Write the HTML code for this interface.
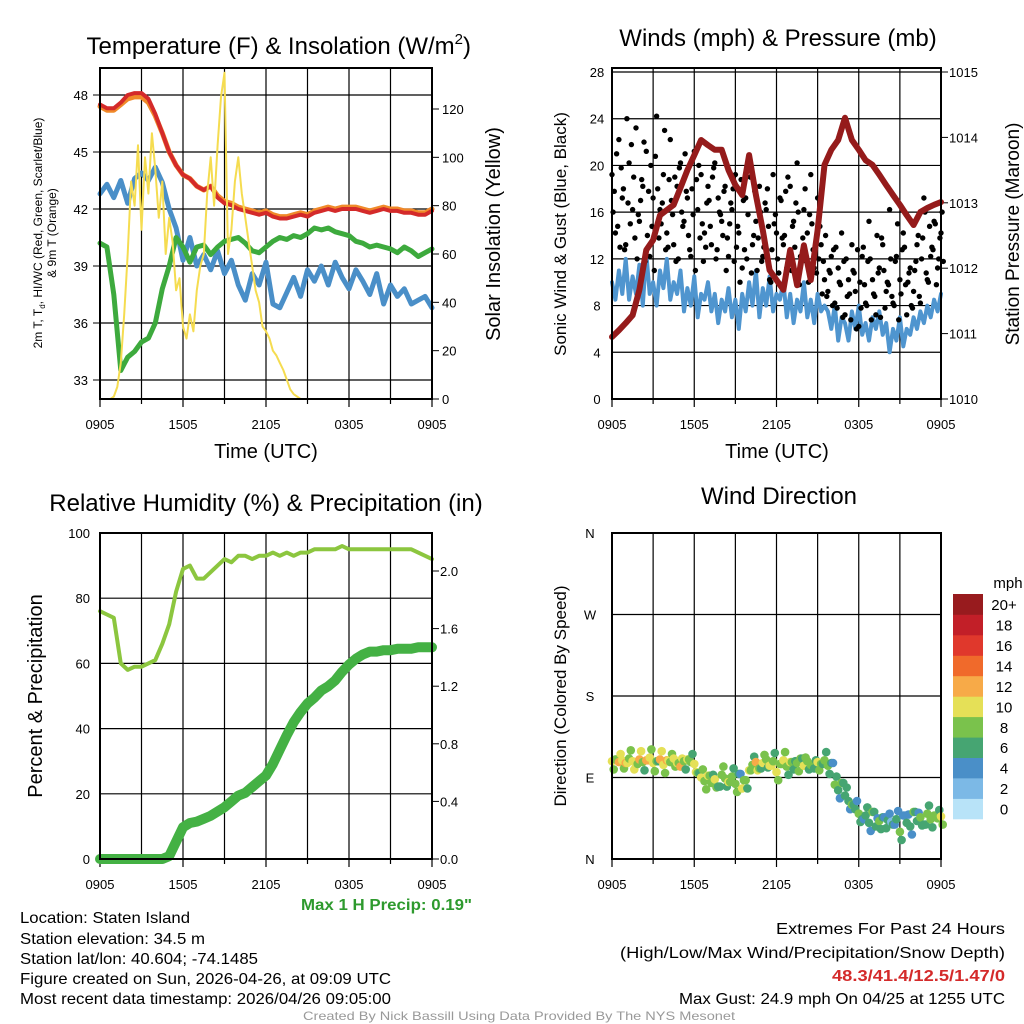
<!DOCTYPE html>
<html><head><meta charset="utf-8"><style>
html,body{margin:0;padding:0;background:#fff}
svg{display:block;font-family:"Liberation Sans",Arial,sans-serif}
</style></head><body>
<svg id="s" width="1024" height="1024" viewBox="0 0 1024 1024">
<rect width="1024" height="1024" fill="#fff"/>
<g id="g"></g>
<text x="20" y="923" font-size="16" textLength="170" lengthAdjust="spacingAndGlyphs">Location: Staten Island</text>
<text x="20" y="944" font-size="16" textLength="185" lengthAdjust="spacingAndGlyphs">Station elevation: 34.5 m</text>
<text x="20" y="964" font-size="16" textLength="238" lengthAdjust="spacingAndGlyphs">Station lat/lon: 40.604; -74.1485</text>
<text x="20" y="984" font-size="16" textLength="371" lengthAdjust="spacingAndGlyphs">Figure created on Sun, 2026-04-26, at 09:09 UTC</text>
<text x="20" y="1004" font-size="16" textLength="371" lengthAdjust="spacingAndGlyphs">Most recent data timestamp: 2026/04/26 09:05:00</text>
<text x="301" y="910" font-size="16" font-weight="bold" fill="#2e9a2e" textLength="171" lengthAdjust="spacingAndGlyphs">Max 1 H Precip: 0.19"</text>
<text x="776" y="934" font-size="16" textLength="229" lengthAdjust="spacingAndGlyphs">Extremes For Past 24 Hours</text>
<text x="620" y="958" font-size="16" textLength="385" lengthAdjust="spacingAndGlyphs">(High/Low/Max Wind/Precipitation/Snow Depth)</text>
<text x="832" y="981" font-size="16" font-weight="bold" fill="#d42a2a" textLength="173" lengthAdjust="spacingAndGlyphs">48.3/41.4/12.5/1.47/0</text>
<text x="679" y="1004" font-size="16" textLength="326" lengthAdjust="spacingAndGlyphs">Max Gust: 24.9 mph On 04/25 at 1255 UTC</text>
<text x="303" y="1020" font-size="12" fill="#999" textLength="432" lengthAdjust="spacingAndGlyphs">Created By Nick Bassill Using Data Provided By The NYS Mesonet</text>
</svg>
<script>
// ---- data (30-min unless noted) ----
const xLabels=["0905","1505","2105","0305","0905"];
const tempTicks=[33,36,39,42,45,48];
const solarTicks=[0,20,40,60,80,100,120];
const temp2m=[47.5,47.3,47.3,47.6,48.0,48.1,48.1,47.8,47.0,46.0,45.0,44.3,43.8,43.6,43.2,43.0,43.2,42.6,42.3,42.2,42.0,41.9,41.8,41.7,41.8,41.6,41.5,41.5,41.6,41.7,41.6,41.8,41.9,42.0,41.9,42.0,42.0,42.0,41.9,41.8,41.9,42.0,41.9,41.9,41.8,41.8,41.7,41.7,41.9];
const temp9m=[47.4,47.2,47.2,47.5,47.8,47.9,47.9,47.6,46.9,46.0,45.0,44.3,43.8,43.6,43.2,43.0,43.2,42.7,42.4,42.3,42.1,42.0,41.9,41.8,41.9,41.7,41.6,41.6,41.7,41.8,41.7,41.9,42.0,42.1,42.0,42.1,42.1,42.1,42.0,41.9,42.0,42.1,42.0,42.0,41.9,41.9,41.8,41.8,42.0];
const dewpt=[40.2,40.0,37.5,33.5,34.2,34.5,35.0,35.2,36.0,37.8,39.0,40.5,40.0,39.2,40.0,40.1,39.6,40.0,40.3,40.4,40.5,40.2,39.8,39.7,40.0,40.3,40.5,40.4,40.6,40.5,40.7,41.0,40.9,41.0,40.8,40.7,40.6,40.3,40.2,40.0,40.1,40.0,39.9,39.7,40.0,39.8,39.5,39.7,39.9];
const windChill=[42.8,43.3,42.6,43.5,42.3,43.6,43.9,43.5,44.2,43.4,42.0,41.0,39.3,40.5,39.0,39.6,38.8,39.8,38.6,39.3,38.0,37.2,38.6,38.0,39.2,37.0,36.8,37.6,38.4,37.4,38.8,38.2,39.0,38.0,39.2,38.4,37.8,38.8,38.2,37.5,38.6,37.0,38.0,37.4,37.8,37.0,37.2,37.4,36.8];
// 15-min
const solar=[0,0,0,0,1,5,15,35,60,90,80,105,70,100,85,110,95,75,90,60,75,65,45,50,30,25,35,28,45,55,60,85,100,80,105,125,135,60,70,90,100,85,75,65,55,45,40,30,28,25,20,18,15,12,8,4,2,1,0,0,0,0,0,0,0,0,0,0,0,0,0,0,0,0,0,0,0,0,0,0,0,0,0,0,0,0,0,0,0,0,0,0,0,0,0,0,0];
const windTicks=[0,4,8,12,16,20,24,28];
const presTicks=[1010,1011,1012,1013,1014,1015];
// 15-min
const sonicWind=[10,8.5,11,9,12,8.5,10.5,9,11.5,8,12.5,9,10,8,11,9.5,12,8.5,10,9,11,7.5,9.5,8,10.5,7,9,8.5,10,7.5,9,6.5,8.5,7.5,9.5,7,8.5,6,9,7.5,10,8,11,7,9.5,8,10.5,7.5,9,8.5,10,7,9,6.5,8.5,7.5,10,7,8.5,6.5,9,7.5,8,7.5,6,8,5,7,6.5,5,7.5,6,8,5.5,6.5,5,7,6,7.5,5.5,6.5,4,6,5,7,4.5,6,5.5,7,6,7.5,6.5,8,7,8.5,7.5,9];
const gusts=[19,14,22,17,13,20,16,23,15,18,21,12,17,24,16,19,14,22,13,18,20,15,17,12,21,16,19,14,18,13,20,17,15,18,12,16,19,14,11,17,20,13,15,18,12,16,10,19,14,17,13,11,18,15,20,12,16,14,19,11,17,13,10,9,12,8,11,14,7,10,13,9,6,12,8,15,10,7,11,13,9,16,8,12,10,14,7,11,9,13,8,17,10,12,15,11,14];
const gusts2=[16,21,13,18,24,15,19,12,17,22,14,20,11,18,15,23,13,17,19,12,16,21,14,18,11,20,15,13,17,19,12,16,14,11,15,18,13,10,17,12,19,14,11,16,13,18,10,15,12,17,14,19,11,13,16,12,18,10,15,13,12,9,14,11,8,13,10,7,12,9,11,6,10,13,8,12,9,14,7,11,10,12,8,15,9,13,10,8,11,14,12,16,10,13,15,12,16];
const gusts3=[18,15,20,13,17,22,14,16,19,12,18,15,21,14,17,13,19,16,12,20,15,18,13,16,19,14,12,17,15,20,13,16,18,14,17,12,15,19,13,16,11,18,14,12,17,15,13,16,11,14,18,12,15,17,10,14,12,16,13,11,15,12,9,11,13,8,10,12,9,7,11,13,8,10,12,7,9,11,14,8,10,9,12,7,13,10,11,8,12,9,14,11,15,13,10,14,12];
const pressure=[1010.95,1011.05,1011.16,1011.28,1011.67,1012.28,1012.43,1012.81,1012.89,1012.97,1013.23,1013.5,1013.73,1013.96,1013.88,1013.81,1013.81,1013.5,1013.27,1013.12,1013.73,1013.12,1012.58,1011.97,1011.82,1011.67,1012.28,1011.74,1012.35,1011.82,1012.58,1013.58,1013.81,1013.96,1014.3,1013.96,1013.81,1013.65,1013.58,1013.43,1013.27,1013.12,1012.97,1012.81,1012.66,1012.86,1012.92,1012.97,1013.01];
const rhTicks=[0,20,40,60,80,100];
const prTicks=["0.0","0.4","0.8","1.2","1.6","2.0"];
const rh=[76,75,74,60,58,59,59,60,61,66,72,82,89,90,86,86,88,90,92,91,93,93,92,93,93,94,93,94,93,94,94,95,95,95,95,96,95,95,95,95,95,95,95,95,95,95,94,93,92];
const precip=[0,0,0,0,0,0,0,0,0,0,0.02,0.12,0.22,0.25,0.26,0.28,0.3,0.33,0.36,0.4,0.44,0.46,0.5,0.54,0.58,0.66,0.76,0.86,0.95,1.02,1.08,1.12,1.17,1.2,1.24,1.3,1.35,1.39,1.42,1.44,1.44,1.45,1.45,1.46,1.46,1.46,1.47,1.47,1.47];
const dirTicks=["N","E","S","W","N"];
// 15-min
const windDir=[108,110,107,109,106,111,108,105,110,107,109,112,106,108,110,104,109,107,111,106,102,108,110,107,105,95,90,86,92,84,88,80,93,89,85,91,83,94,78,87,98,104,107,100,106,110,103,108,96,105,109,102,107,99,106,111,103,108,104,100,107,105,109,103,106,82,76,84,70,64,60,55,50,44,48,40,52,36,42,46,34,50,38,44,30,48,40,36,52,42,46,38,50,44,48,45,47];
const cbLabels=["0","2","4","6","8","10","12","14","16","18","20+"];
const cbColors=["#b8e3f8","#7cb9e6","#4a8fc8","#46a572","#7ac24c","#e5e057","#f7aa48","#f06a2b","#e0382c","#c21f28","#981b1e"];

const NS='http://www.w3.org/2000/svg';
const G=document.getElementById('g');
function mk(t,a,name,p){const e=document.createElementNS(NS,t);for(const k in a)e.setAttribute(k,a[k]);


(p||G).appendChild(e);return e;}
function txt(x,y,s,size,name,anchor,extra){const e=mk('text',Object.assign({x:x,y:y,'font-size':size,'text-anchor':anchor||'middle'},extra||{}),name);e.textContent=s;return e;}
function lin(a,b){return v=>a[2]+(v-a[0])/(a[1]-a[0])*(a[3]-a[2]);}

function panel(P,name){
  const vx=[0,3,6,9,12,15,18,21,24];
  vx.forEach(h=>{const x=P.x0+(P.x1-P.x0)*h/24;mk('line',{x1:x,x2:x,y1:P.y0,y2:P.y1,stroke:'#000','stroke-width':1.2},name+'-vgrid');
    mk('line',{x1:x,x2:x,y1:P.y1,y2:P.y1+(h%6?5:8),stroke:'#000','stroke-width':1.2},name+'-xtick');});
  P.hgrid.forEach(y=>mk('line',{x1:P.x0,x2:P.x1,y1:y,y2:y,stroke:'#000','stroke-width':1.2},name+'-hgrid'));
  xLabels.forEach((l,i)=>{const x=P.x0+(P.x1-P.x0)*i/4;
    txt(x,P.y1+30,l,13,name+'-xtick-label','middle');});
}
function frame(P,name){mk('rect',{x:P.x0,y:P.y0,width:P.x1-P.x0,height:P.y1-P.y0,fill:'none',stroke:'#000','stroke-width':2},name+'-frame');}
function path(arr,xf,yf,col,w,name){let d='';arr.forEach((v,i)=>{d+=(i?'L':'M')+xf(i,arr.length).toFixed(1)+','+yf(v).toFixed(1);});
 return mk('path',{d:d,fill:'none',stroke:col,'stroke-width':w,'stroke-linejoin':'round','stroke-linecap':'round'},name);}

// ---------- Panel 1 ----------
{const P={x0:100,x1:432,y0:68,y1:399};
 const yT=lin([33,48,380,95]); const yS=lin([0,120,399,109]);
 P.hgrid=tempTicks.map(yT); panel(P,'temp');
 const xf=(i,n)=>P.x0+(P.x1-P.x0)*i/(n-1);
 tempTicks.forEach(t=>{txt(P.x0-12,yT(t)+5,String(t),13,'temp-ytick-label','end');mk('line',{x1:P.x0-7,x2:P.x0,y1:yT(t),y2:yT(t),stroke:'#000'},'temp-ytick');});
 solarTicks.forEach(t=>{txt(P.x1+10,yS(t)+5,String(t),13,'solar-ytick-label','start');mk('line',{x1:P.x1,x2:P.x1+7,y1:yS(t),y2:yS(t),stroke:'#000'},'solar-ytick');});
 path(windChill,xf,yT,'#4a8fc8',5,'windchill-line');
 path(dewpt,xf,yT,'#3daa3d',5,'dewpoint-line');
 path(temp9m,xf,yT,'#f08a2a',5,'temp-9m-line');
 path(temp2m,xf,yT,'#d42a2a',4,'temp-2m-line');
 path(solar,xf,yS,'#f5dc50',2,'solar-line');
 frame(P,'temp');
 txt(266,54,'',24,'temp-title','end',{x:'471'}).innerHTML='Temperature (F) &amp; Insolation (W/m<tspan font-size="15" dy="-10">2</tspan><tspan dy="10">)</tspan>';
 txt(266,458,'Time (UTC)',20,'temp-x-title');
 const l=txt(0,0,'',12,'temp-y-title','middle',{transform:'translate(42,233) rotate(-90)'});
 l.innerHTML='2m T, T<tspan font-size="8" dy="3">d</tspan><tspan dy="-3">, HI/WC (Red, Green, Scarlet/Blue)</tspan>';
 txt(0,0,'& 9m T (Orange)',12,'temp-y-title-2','middle',{transform:'translate(56,233) rotate(-90)'});
 txt(0,0,'Solar Insolation (Yellow)',20,'solar-y-title','middle',{transform:'translate(500,234) rotate(-90)'});
}
// ---------- Panel 2 ----------
{const P={x0:612,x1:941,y0:68,y1:399};
 const yW=lin([0,28,399,72]); const yP=lin([1010,1015,399,72]);
 P.hgrid=windTicks.map(yW); panel(P,'wind');
 const xf=(i,n)=>P.x0+(P.x1-P.x0)*i/(n-1);
 windTicks.forEach(t=>txt(P.x0-15,yW(t)+5,String(t),13,'wind-ytick-label','middle'));
 presTicks.forEach(t=>{txt(P.x1+8,yP(t)+5,String(t),13,'pressure-ytick-label','start');mk('line',{x1:P.x1,x2:P.x1+7,y1:yP(t),y2:yP(t),stroke:'#000'},'pressure-ytick');});
 path(sonicWind,xf,yW,'#4f95cf',4,'sonic-wind-line');
 [gusts,gusts2,gusts3].forEach((arr,k)=>arr.forEach((v,i)=>mk('circle',{cx:(xf(i,arr.length)+k*1.15).toFixed(1),cy:(yW(v)+k*2.5-2.5).toFixed(1),r:2.7,fill:'#000'},'gust-dot')));
 path(pressure,xf,yP,'#951b1b',6,'pressure-line');
 frame(P,'wind');
 txt(778,46,'Winds (mph) & Pressure (mb)',24,'wind-title');
 txt(777,458,'Time (UTC)',20,'wind-x-title');
 txt(0,0,'Sonic Wind & Gust (Blue, Black)',17,'wind-y-title','middle',{transform:'translate(566,234) rotate(-90)'});
 txt(0,0,'Station Pressure (Maroon)',19,'pressure-y-title','middle',{transform:'translate(1019,234) rotate(-90)'});
}
// ---------- Panel 3 ----------
{const P={x0:100,x1:432,y0:533,y1:859};
 const yR=lin([0,100,859,533]); const yPr=lin([0,2,859,571]);
 P.hgrid=rhTicks.slice(1,5).map(yR); panel(P,'rh');
 const xf=(i,n)=>P.x0+(P.x1-P.x0)*i/(n-1);
 rhTicks.forEach(t=>txt(P.x0-10,yR(t)+5,String(t),13,'rh-ytick-label','end'));
 prTicks.forEach(t=>{txt(P.x1+8,yPr(+t)+5,t,13,'precip-ytick-label','start');mk('line',{x1:P.x1,x2:P.x1+7,y1:yPr(+t),y2:yPr(+t),stroke:'#000'},'precip-ytick');});
 path(precip,xf,yPr,'#44b144',10,'precip-line');
 path(rh,xf,yR,'#8cc63f',4,'rh-line');
 frame(P,'rh');
 txt(266,511,'Relative Humidity (%) & Precipitation (in)',24,'rh-title');
 txt(0,0,'Percent & Precipitation',20,'rh-y-title','middle',{transform:'translate(42,696) rotate(-90)'});
}
// ---------- Panel 4 ----------
{const P={x0:612,x1:941,y0:533,y1:859};
 const yD=lin([0,360,859,533]);
 P.hgrid=[90,180,270].map(yD); panel(P,'dir');
 const xf=(i,n)=>P.x0+(P.x1-P.x0)*i/(n-1);
 dirTicks.forEach((t,i)=>txt(P.x0-22,yD(i*90)+5,t,13,'dir-ytick-label','middle'));
 const cIdx=v=>Math.max(0,Math.min(10,Math.round(v/2)));
 windDir.forEach((d,i)=>{const j=Math.round(i/(windDir.length-1)*(sonicWind.length-1));
   mk('circle',{cx:xf(i,windDir.length).toFixed(1),cy:yD(d).toFixed(1),r:4.3,fill:cbColors[cIdx(sonicWind[j])]},'direction-dot');
   mk('circle',{cx:(xf(i,windDir.length)+1.7).toFixed(1),cy:(yD(d+((i%3)-1)*9)).toFixed(1),r:4.3,fill:cbColors[cIdx(sonicWind[j]-1.5)]},'direction-dot');});
 frame(P,'dir');
 txt(779,504,'Wind Direction',24,'dir-title');
 txt(0,0,'Direction (Colored By Speed)',17,'dir-y-title','middle',{transform:'translate(566,696) rotate(-90)'});
 cbColors.forEach((c,i)=>{const y=819-(i+1)*20.45;
   mk('rect',{x:953,y:y.toFixed(1),width:30,height:20.8,fill:c},'colorbar-box');
   txt(1004,y+16,cbLabels[i],15,'colorbar-label','middle');});
 txt(1008,588,'mph',15,'colorbar-title','middle');
}
</script>
</body></html>
